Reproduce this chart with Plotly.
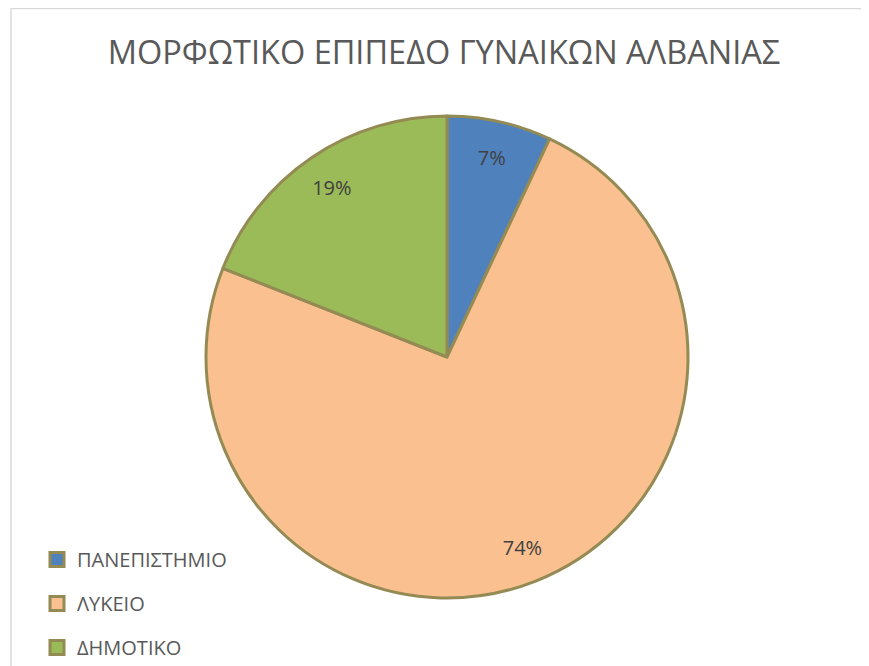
import plotly.graph_objects as go

# 教育水準データ
labels = ["ΠΑΝΕΠΙΣΤΗΜΙΟ", "ΛΥΚΕΙΟ", "ΔΗΜΟΤΙΚΟ"]
values = [7, 74, 19]
colors = ["#4F81BD", "#FAC090", "#9BBB59"]
title_text = "ΜΟΡΦΩΤΙΚΟ ΕΠΙΠΕΔΟ ΓΥΝΑΙΚΩΝ ΑΛΒΑΝΙΑΣ"

W, H = 869, 666
OFF = 8  # ページ本体の余白分
edge = "#948A54"
txt = "#595959"
font_family = "Open Sans"

def px_x(v):
    return (v - OFF) / W

def px_y(v):
    return 1 - (v - OFF) / H

pie_domain = dict(x=[px_x(206), px_x(688)], y=[px_y(598), px_y(116)])

fig = go.Figure()

# 本体の円グラフ
fig.add_trace(go.Pie(
    labels=labels,
    values=values,
    sort=False,
    direction="clockwise",
    rotation=0,
    marker=dict(colors=colors, line=dict(color=edge, width=3)),
    textinfo="none",
    showlegend=False,
    hoverinfo="label+percent",
    domain=pie_domain,
))

# ラベル用の透明なドーナツ(外側寄りに配置するため)
fig.add_trace(go.Pie(
    labels=labels,
    values=values,
    sort=False,
    direction="clockwise",
    rotation=0,
    hole=0.7,
    marker=dict(colors=["rgba(0,0,0,0)"] * len(values),
                line=dict(width=0)),
    texttemplate="%{percent:.0%}",
    textposition="inside",
    insidetextorientation="horizontal",
    textfont=dict(size=20, color="#404040", family=font_family),
    showlegend=False,
    hoverinfo="skip",
    domain=pie_domain,
))

# 凡例用のダミー系列
for lab, col in zip(labels, colors):
    fig.add_trace(go.Scatter(
        x=[None], y=[None],
        mode="markers",
        name=lab,
        legendgroup=lab,
        marker=dict(symbol="square", size=14, color=col,
                    line=dict(color=edge, width=3)),
        showlegend=True,
    ))

fig.update_layout(
    width=W, height=H,
    margin=dict(l=0, r=0, t=0, b=0),
    paper_bgcolor="white",
    plot_bgcolor="white",
    xaxis=dict(visible=False),
    yaxis=dict(visible=False),
    title=dict(text=title_text, x=px_x(444), xanchor="center", y=px_y(53),
               yanchor="middle",
               font=dict(size=32.5, color=txt, family=font_family)),
    legend=dict(x=px_x(37), y=px_y(540), xanchor="left", yanchor="top",
                font=dict(size=20, color=txt, family=font_family),
                tracegroupgap=15, itemsizing="trace",
                bgcolor="rgba(0,0,0,0)"),
    shapes=[dict(type="rect", xref="paper", yref="paper",
                 x0=px_x(11), x1=1.02, y0=-0.02, y1=px_y(8.5),
                 line=dict(color="#D9D9D9", width=1.5))],
)

fig.write_html("out.html")
